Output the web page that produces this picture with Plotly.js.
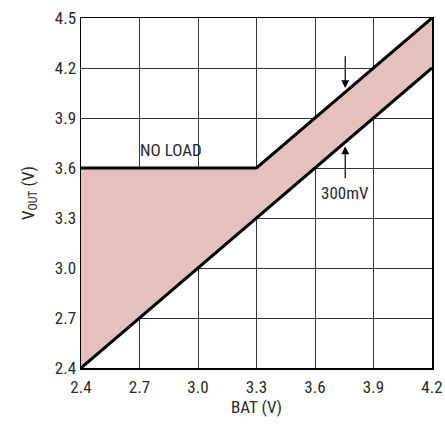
<!DOCTYPE html>
<html><head><meta charset="utf-8">
<script src="https://cdn.plot.ly/plotly-3.0.1.min.js"></script>
<style>html,body{margin:0;padding:0;background:#fff}#chart{width:445px;height:424px}</style>
</head><body><div id="chart"></div>
<script>
const batLow = [2.4, 4.2];
const voutLow = [2.4, 4.2];
const batNoLoad = [2.4, 3.3, 4.2];
const voutNoLoad = [3.6, 3.6, 4.5];
const xTicks = [2.4, 2.7, 3.0, 3.3, 3.6, 3.9, 4.2];
const yTicks = [2.4, 2.7, 3.0, 3.3, 3.6, 3.9, 4.2, 4.5];

const FONT = 'Liberation Sans Narrow, Arial Narrow, Roboto Condensed, Liberation Sans, sans-serif';
const TXT = '#2a2a2a';
const fillX = batNoLoad.concat(batLow.slice().reverse());
const fillY = voutNoLoad.concat(voutLow.slice().reverse());

const data = [
  {x: fillX, y: fillY, type: 'scatter', mode: 'none', fill: 'toself', fillcolor: '#e5c1bd', hoverinfo: 'skip'},
  {x: batLow, y: voutLow, type: 'scatter', mode: 'lines', line: {color: '#000', width: 3}},
  {x: batNoLoad, y: voutNoLoad, type: 'scatter', mode: 'lines', line: {color: '#000', width: 3}}
];

const layout = {
  width: 445, height: 424,
  margin: {l: 81, r: 13, t: 18, b: 56},
  paper_bgcolor: '#fff', plot_bgcolor: 'rgba(0,0,0,0)',
  showlegend: false,
  font: {family: FONT, size: 17, color: TXT},
  xaxis: {range: [2.4, 4.2], tickvals: xTicks, ticktext: xTicks.map(v => v.toFixed(1)),
    showgrid: true, gridcolor: '#333', gridwidth: 1, zeroline: false,
    showline: true, mirror: true, linecolor: '#000', linewidth: 1.5,
    ticks: 'outside', ticklen: 3, tickcolor: 'rgba(0,0,0,0)',
    layer: 'above traces',
    title: {text: 'BAT (V)', font: {family: FONT, size: 17, color: TXT}, standoff: 4}},
  yaxis: {range: [2.4, 4.5], tickvals: yTicks, ticktext: yTicks.map(v => v.toFixed(1)),
    showgrid: true, gridcolor: '#333', gridwidth: 1, zeroline: false,
    showline: true, mirror: true, linecolor: '#000', linewidth: 1.5, ticks: '',
    layer: 'above traces',
    title: {text: 'V<sub>OUT</sub> (V)', font: {family: FONT, size: 17, color: TXT}, standoff: 16}},
  annotations: [
    {x: 2.86, y: 3.71, xref: 'x', yref: 'y', text: 'NO LOAD', showarrow: false, font: {family: FONT, size: 17, color: TXT}},
    {x: 3.755, y: 3.45, xref: 'x', yref: 'y', text: '300mV', showarrow: false, font: {family: FONT, size: 17, color: TXT}},
    {x: 3.755, y: 4.08, ax: 3.755, ay: 4.28, xref: 'x', yref: 'y', axref: 'x', ayref: 'y', text: '', showarrow: true, arrowhead: 2, arrowsize: 1.3, arrowwidth: 1.2, arrowcolor: '#000'},
    {x: 3.755, y: 3.73, ax: 3.755, ay: 3.53, xref: 'x', yref: 'y', axref: 'x', ayref: 'y', text: '', showarrow: true, arrowhead: 2, arrowsize: 1.3, arrowwidth: 1.2, arrowcolor: '#000'}
  ]
};
Plotly.newPlot('chart', data, layout, {displayModeBar: false, staticPlot: true});
</script></body></html>
